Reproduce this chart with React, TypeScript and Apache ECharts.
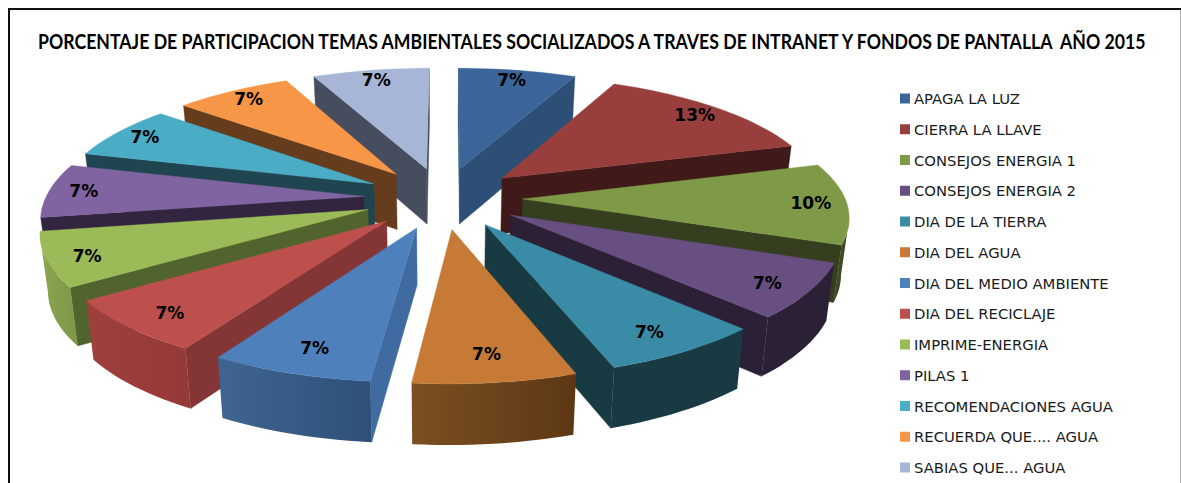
import React, { useEffect, useRef } from "react";
import * as echarts from "echarts";

const categories = [
  "APAGA LA LUZ", "CIERRA LA LLAVE", "CONSEJOS ENERGIA 1", "CONSEJOS ENERGIA 2",
  "DIA DE LA TIERRA", "DIA DEL AGUA", "DIA DEL MEDIO AMBIENTE", "DIA DEL RECICLAJE",
  "IMPRIME-ENERGIA", "PILAS 1", "RECOMENDACIONES AGUA", "RECUERDA QUE.... AGUA", "SABIAS QUE... AGUA",
];
const values = [6.9, 13.4, 10.4, 6.9, 6.9, 6.9, 6.9, 6.9, 6.9, 6.9, 6.9, 6.9, 6.9];
const topColors = ["#3c6699", "#983f3d", "#7e9a46", "#684f82", "#3a8ca6", "#c67a35", "#4e80bc", "#bd504d", "#9bbb59", "#8064a2", "#4bacc6", "#f79646", "#a7b6d7"];
const cutColors = ["#2d4e75", "#401a18", "#353f1f", "#2b2036", "#183a43", "#6a421b", "#3f6ba0", "#843535", "#52642e", "#33253f", "#1f4550", "#653c1c", "#454d5e"];
const wallFrom = ["#2d4e75", "#401a18", "#3d4a22", "#2b2036", "#193a43", "#7b4f21", "#3f6590", "#9f403d", "#8aa650", "#33253f", "#1f4550", "#653c1c", "#454d5e"];
const wallTo = ["#2d4e75", "#401a18", "#3d4a22", "#2b2036", "#193a43", "#5d3715", "#2e5078", "#943a38", "#7c9647", "#33253f", "#1f4550", "#653c1c", "#454d5e"];
const title = "PORCENTAJE DE PARTICIPACION TEMAS AMBIENTALES SOCIALIZADOS A TRAVES DE INTRANET Y FONDOS DE PANTALLA  AÑO 2015";

// Projection of the tilted, exploded disc
const CX = 443, CY = 197.9, AX = 318, BY = 122.6, P = 0.142, EXPLODE = 0.25, DEPTH = 56, LABEL_R = 0.89;
const total = values.reduce((a, b) => a + b, 0);
const starts: number[] = [];
values.reduce((acc, v, i) => { starts[i] = acc; return acc + v; }, 0);
const rad = (v: number) => (v / total) * Math.PI * 2;

function project(X: number, Y: number, lower: boolean): [number, number] {
  const w = 1 - P * Y;
  const shear = Y > 0 ? 3.5 * Y : 0.8 * Y;
  const stretch = 1 + 0.009 * Math.max(0, X) * Math.max(0, 1 - Y);
  const x = CX + (AX * stretch * X - shear) / w;
  const y = CY + (BY * Y) / w;
  if (!lower) return [x, y];
  return [CX + (x - CX) * 0.98, y + DEPTH / Math.pow(w, 0.45)];
}

function sliceChildren(i: number) {
  const a0 = rad(starts[i]);
  const a1 = rad(starts[i] + values[i]);
  const mid = (a0 + a1) / 2;
  const ex = EXPLODE * Math.sin(mid);
  const ey = -EXPLODE * Math.cos(mid);
  const at = (a: number, r: number, lower: boolean) => project(ex + r * Math.sin(a), ey - r * Math.cos(a), lower);
  const steps = Math.max(6, Math.round((a1 - a0) / 0.03));
  const angles: number[] = [];
  for (let s = 0; s <= steps; s++) angles.push(a0 + ((a1 - a0) * s) / steps);
  const topArc = angles.map((a) => at(a, 1, false));
  const lowArc = angles.map((a) => at(a, 1, true));
  const tipT = at(0, 0, false);
  const tipB = at(0, 0, true);
  const children: any[] = [];
  const poly = (points: number[][], fill: any) => ({
    type: "polygon", shape: { points }, style: { fill, stroke: typeof fill === "string" ? fill : undefined, lineWidth: 0.4 },
  });
  const cross = (a: number[], b: number[], c: number[]) => (b[0] - a[0]) * (c[1] - b[1]) - (b[1] - a[1]) * (c[0] - b[0]);
  const endOuterT = topArc[steps], endOuterB = lowArc[steps];
  if (cross(tipT, endOuterT, endOuterB) > 0) children.push(poly([tipT, endOuterT, endOuterB, tipB], cutColors[i]));
  const startOuterT = topArc[0], startOuterB = lowArc[0];
  if (cross(tipT, startOuterT, startOuterB) < 0) children.push(poly([tipT, startOuterT, startOuterB, tipB], cutColors[i]));
  const keep: number[] = [];
  for (let s = 0; s <= steps; s++) {
    const next = s < steps ? topArc[s + 1][0] < topArc[s][0] : topArc[s][0] < topArc[s - 1][0];
    const prev = s > 0 ? topArc[s][0] < topArc[s - 1][0] : next;
    if (next || prev) keep.push(s);
  }
  if (keep.length > 1) {
    const pts = keep.map((s) => topArc[s]).concat(keep.map((s) => lowArc[s]).reverse());
    const fill = new echarts.graphic.LinearGradient(0, 0, 1, 0, [
      { offset: 0, color: wallFrom[i] }, { offset: 1, color: wallTo[i] },
    ]);
    children.push(poly(pts, fill));
  }
  children.push(poly([tipT, ...topArc], topColors[i]));
  const front = Math.max(0, -Math.cos(mid));
  const lp = at(mid, LABEL_R - 0.07 * front * front, false);
  children.push({
    type: "text",
    style: {
      text: Math.round((values[i] / total) * 100) + "%",
      x: lp[0], y: lp[1] + 3 * Math.min(1, front * 2), textAlign: "center", textVerticalAlign: "middle",
      fill: "#000", font: "bold 17px 'DejaVu Sans'",
    },
  });
  return children;
}

export default function App() {
  const ref = useRef<HTMLDivElement>(null);
  useEffect(() => {
    document.body.style.margin = "0";
    const chart = echarts.init(ref.current!, undefined, { renderer: "svg" });
    const depthRank = values.map((_, i) => -Math.cos(rad(starts[i] + values[i] / 2)));
    chart.setOption({
      animation: false,
      backgroundColor: "#fff",
      legend: {
        orient: "vertical", left: 900, top: 91, width: 275, height: 392, padding: 0,
        itemWidth: 10, itemHeight: 10, itemGap: 15.75, icon: "rect",
        data: categories,
        textStyle: { fontFamily: "'DejaVu Sans'", fontSize: 14.8, color: "#1a1a1a", height: 15, lineHeight: 15, padding: [0, 0, 0, -1] },
      },
      graphic: [
        {
          type: "text", silent: true, z: 100, x: 38, y: 40.5, scaleX: 0.843, scaleY: 1,
          style: { text: title, font: "bold 21px Lato", fill: "#000", textAlign: "left", textVerticalAlign: "middle" },
        },
        { type: "line", silent: true, z: 100, shape: { x1: 9, y1: 9, x2: 9, y2: 483 }, style: { stroke: "#111", lineWidth: 2 } },
        { type: "line", silent: true, z: 100, shape: { x1: 8, y1: 9, x2: 1181, y2: 9 }, style: { stroke: "#111", lineWidth: 2 } },
        { type: "line", silent: true, z: 100, shape: { x1: 1180.5, y1: 10, x2: 1180.5, y2: 483 }, style: { stroke: "#b0b0b0", lineWidth: 1 } },
      ],
      series: categories.map((name, i) => ({
        type: "custom", name, coordinateSystem: "none", silent: true,
        z: 2 + depthRank[i] * 5,
        itemStyle: { color: topColors[i] },
        data: [[values[i]]],
        renderItem: () => ({ type: "group", children: sliceChildren(i) }),
      })),
    });
    return () => chart.dispose();
  }, []);
  return <div ref={ref} style={{ width: 1181, height: 483 }} />;
}
